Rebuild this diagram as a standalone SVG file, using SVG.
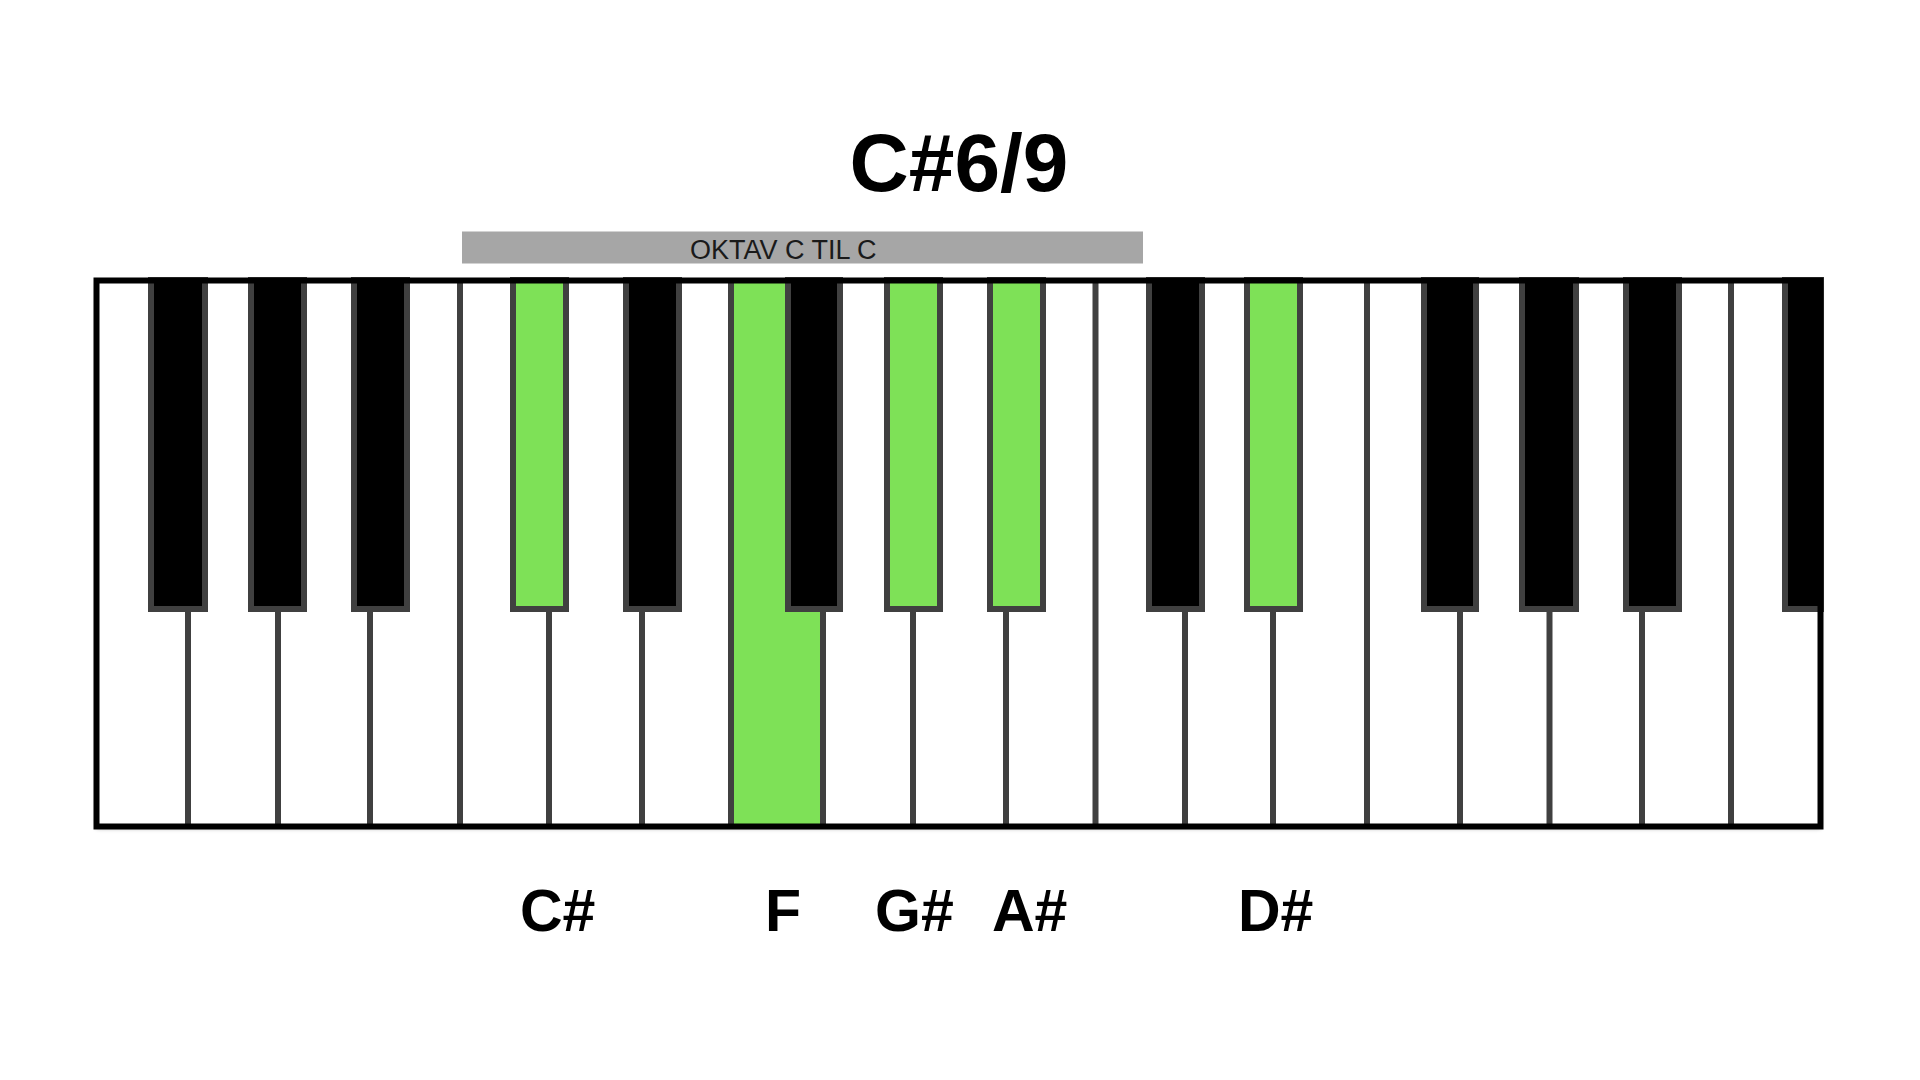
<svg xmlns="http://www.w3.org/2000/svg" width="1920" height="1080" viewBox="0 0 1920 1080">
<style>
.sep{stroke:#404040;stroke-width:6;fill:none}
.bk{fill:#000;stroke:#404040;stroke-width:6}
.gk{fill:#7ee157;stroke:#404040;stroke-width:6}
.lbl{font-family:"Liberation Sans",Arial,sans-serif;font-weight:bold;font-size:59px;fill:#000}
</style>
<defs>
<filter id="sh" x="-5%" y="-5%" width="110%" height="110%">
<feDropShadow dx="0" dy="2" stdDeviation="2" flood-color="#000" flood-opacity="0.35"/>
</filter>
</defs>
<rect width="1920" height="1080" fill="#fff"/>
<g id="title"><text x="959" y="191" text-anchor="middle" font-family="Liberation Sans, Arial, sans-serif" font-weight="bold" font-size="82">C#6/9</text></g>
<g id="oktav">
<rect x="462" y="231.5" width="681" height="32" fill="#a6a6a6"/>
<text x="690" y="258.5" font-family="Liberation Sans, Arial, sans-serif" font-size="27" fill="#1a1a1a">OKTAV C TIL C</text>
</g>
<g id="keyboard">
<rect x="96.5" y="280.5" width="1724" height="546" fill="#fff" filter="url(#sh)"/>
<rect id="key-F-green" x="731" y="283" width="92" height="541" fill="#7ee157"/>
<g id="white-separators">
<line class="sep" x1="188" y1="612" x2="188" y2="824"/>
<line class="sep" x1="278" y1="612" x2="278" y2="824"/>
<line class="sep" x1="370" y1="612" x2="370" y2="824"/>
<line class="sep" x1="460" y1="283" x2="460" y2="824"/>
<line class="sep" x1="549" y1="612" x2="549" y2="824"/>
<line class="sep" x1="642" y1="612" x2="642" y2="824"/>
<line class="sep" x1="731" y1="283" x2="731" y2="824"/>
<line class="sep" x1="823" y1="612" x2="823" y2="824"/>
<line class="sep" x1="913" y1="612" x2="913" y2="824"/>
<line class="sep" x1="1006" y1="612" x2="1006" y2="824"/>
<line class="sep" x1="1095.5" y1="283" x2="1095.5" y2="824"/>
<line class="sep" x1="1185" y1="612" x2="1185" y2="824"/>
<line class="sep" x1="1273" y1="612" x2="1273" y2="824"/>
<line class="sep" x1="1367" y1="283" x2="1367" y2="824"/>
<line class="sep" x1="1460" y1="612" x2="1460" y2="824"/>
<line class="sep" x1="1549.5" y1="612" x2="1549.5" y2="824"/>
<line class="sep" x1="1642" y1="612" x2="1642" y2="824"/>
<line class="sep" x1="1731" y1="283" x2="1731" y2="824"/>
</g>
<g id="black-keys">
<rect class="bk" x="151" y="280" width="54" height="329"/>
<rect class="bk" x="251" y="280" width="53" height="329"/>
<rect class="bk" x="354" y="280" width="53" height="329"/>
<rect class="gk" x="513" y="280" width="53" height="329"/>
<rect class="bk" x="626" y="280" width="53" height="329"/>
<rect class="bk" x="788" y="280" width="52" height="329"/>
<rect class="gk" x="887" y="280" width="53" height="329"/>
<rect class="gk" x="990" y="280" width="53" height="329"/>
<rect class="bk" x="1149" y="280" width="53" height="329"/>
<rect class="gk" x="1247" y="280" width="53" height="329"/>
<rect class="bk" x="1424" y="280" width="52" height="329"/>
<rect class="bk" x="1522" y="280" width="54" height="329"/>
<rect class="bk" x="1626" y="280" width="53" height="329"/>
<rect class="bk" x="1785" y="280" width="36" height="329"/>
</g>
<rect id="frame" x="96.5" y="280.5" width="1724" height="546" fill="none" stroke="#000" stroke-width="6"/>
</g>
<g id="labels">
<text class="lbl" x="520" y="931">C#</text>
<text class="lbl" x="765" y="931">F</text>
<text class="lbl" x="875" y="931">G#</text>
<text class="lbl" x="992" y="931">A#</text>
<text class="lbl" x="1238" y="931">D#</text>
</g>
</svg>
